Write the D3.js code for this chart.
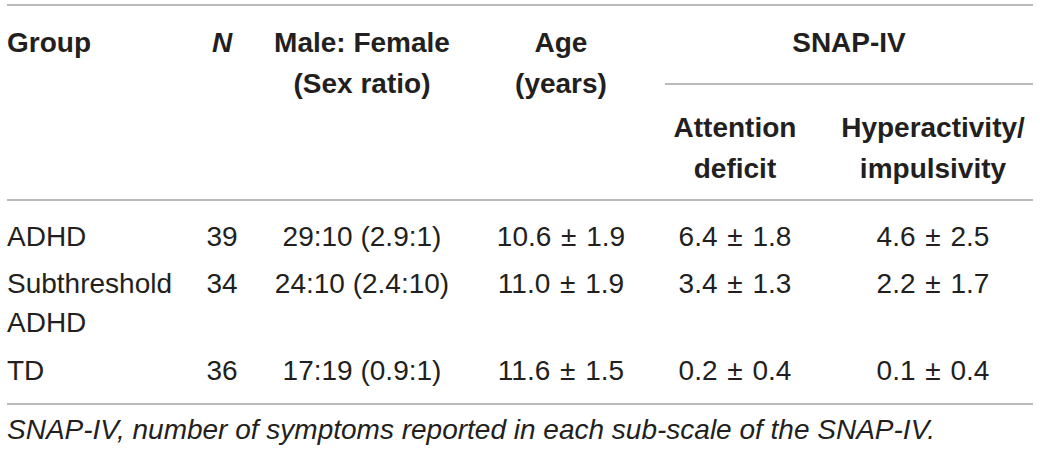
<!DOCTYPE html>
<html>
<head>
<meta charset="utf-8">
<script src="https://cdn.jsdelivr.net/npm/d3@7/dist/d3.min.js"></script>
<style>
  body { margin: 0; background: #fff; }
  svg text { font-family: "Liberation Sans", Arial, Helvetica, sans-serif; fill: #231f20; }
  .head { font-weight: bold; font-size: 28px; }
  .cell { font-size: 28px; }
  .note { font-size: 28px; font-style: italic; }
  .rule { stroke: #a3a3a3; stroke-width: 1.6; }
</style>
</head>
<body>
<svg width="1040" height="454"></svg>
<script>
// ---- data ----
var groups    = [["ADHD"], ["Subthreshold", "ADHD"], ["TD"]];
var nCount    = ["39", "34", "36"];
var sexRatio  = ["29:10 (2.9:1)", "24:10 (2.4:10)", "17:19 (0.9:1)"];
var age       = ["10.6 \u00b1 1.9", "11.0 \u00b1 1.9", "11.6 \u00b1 1.5"];
var attention = ["6.4 \u00b1 1.8", "3.4 \u00b1 1.3", "0.2 \u00b1 0.4"];
var hyper     = ["4.6 \u00b1 2.5", "2.2 \u00b1 1.7", "0.1 \u00b1 0.4"];
var headers   = {
    group: ["Group"], n: ["N"], sex: ["Male: Female", "(Sex ratio)"],
    age: ["Age", "(years)"], att: ["Attention", "deficit"], hyp: ["Hyperactivity/", "impulsivity"]
};
var spanTitle = "SNAP-IV";
var footnote  = "SNAP-IV, number of symptoms reported in each sub-scale of the SNAP-IV.";

var cols = ["group", "n", "sex", "age", "att", "hyp"];
var colData = { n: nCount, sex: sexRatio, age: age, att: attention, hyp: hyper };

// ---- layout ----
var svg = d3.select("svg");
var x = d3.scaleOrdinal().domain(cols).range([7, 222, 362, 561, 735, 933]);
var anchor = function(c) { return c == "group" ? "start" : "middle"; };
var rowY = d3.scaleOrdinal().domain([0, 1, 2]).range([246, 293, 380]);
var lineH = 39;
var left = 7, right = 1033;

// rules
function rule(x1, x2, y)
{
    svg.append("line").attr("class", "rule")
        .attr("x1", x1).attr("x2", x2).attr("y1", y).attr("y2", y);
}
rule(left, right, 5);
rule(x("att") - 70, right, 84);
rule(left, right, 200);
rule(left, right, 404);

// header
cols.forEach(function(c) {
    var yy = (c == "att" || c == "hyp") ? 137 : 52;
    headers[c].forEach(function(t, i) {
        svg.append("text").attr("class", "head")
            .attr("x", x(c)).attr("y", yy + i * 41)
            .attr("text-anchor", anchor(c))
            .style("font-style", c == "n" ? "italic" : null)
            .text(t);
    });
});
svg.append("text").attr("class", "head")
    .attr("x", (x("att") - 70 + right) / 2).attr("y", 52)
    .attr("text-anchor", "middle")
    .text(spanTitle);

// body
groups.forEach(function(g, r) {
    g.forEach(function(t, i) {
        svg.append("text").attr("class", "cell")
            .attr("x", x("group")).attr("y", rowY(r) + i * lineH)
            .attr("text-anchor", "start")
            .text(t);
    });
    cols.slice(1).forEach(function(c) {
        svg.append("text").attr("class", "cell")
            .attr("x", x(c)).attr("y", rowY(r))
            .attr("text-anchor", "middle")
            .style("word-spacing", c == "sex" ? null : "2px")
            .text(colData[c][r]);
    });
});

// footnote
svg.append("text").attr("class", "note")
    .attr("x", left).attr("y", 439)
    .text(footnote);
</script>
</body>
</html>
